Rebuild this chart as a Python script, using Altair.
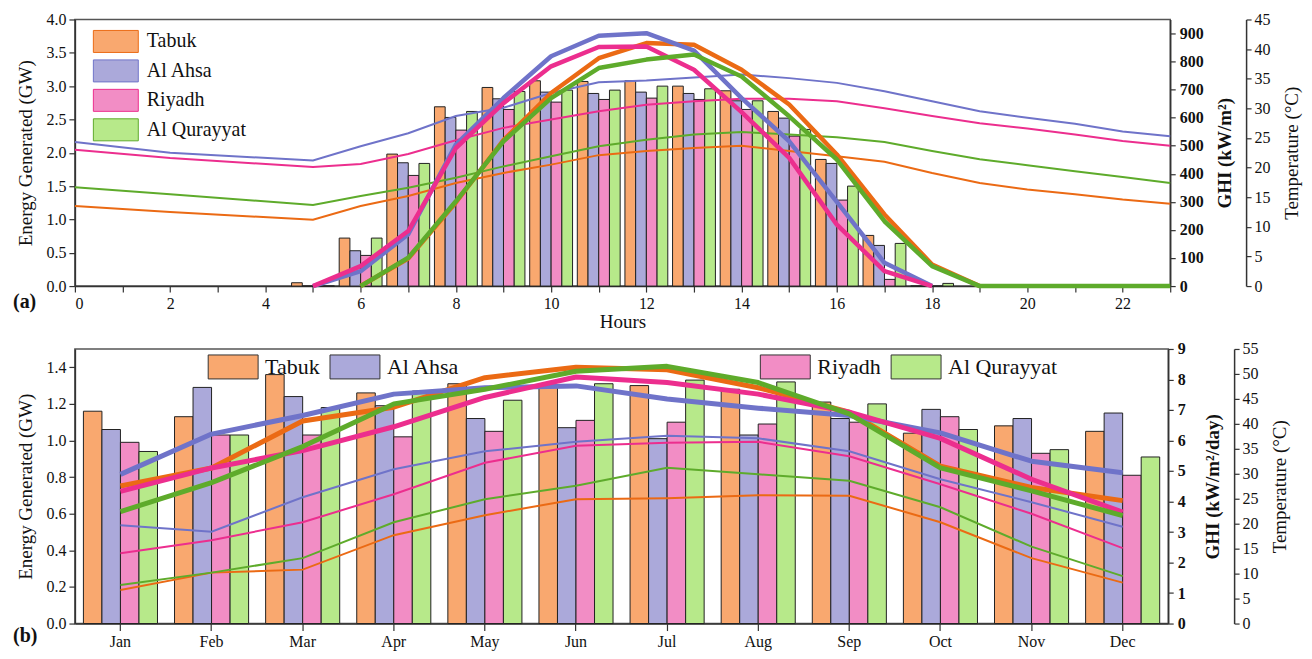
import altair as alt
import pandas as pd

FONT = "Liberation Serif"

cities = ["Tabuk", "Al Ahsa", "Riyadh", "Al Qurayyat"]
bar_colors = ["#F9A86F", "#ABA9DA", "#F28DC5", "#B7E98A"]
line_colors = ["#EB6A14", "#6F73C9", "#EC2E8E", "#5EAB2B"]

# ---------------- (a) hourly ----------------
bar_hours = [5, 6, 7, 8, 9, 10, 11, 12, 13, 14, 15, 16, 17, 18]
energy_tabuk_h = [0.05, 0.72, 1.98, 2.69, 2.98, 3.08, 3.07, 3.08, 3.00, 2.93, 2.62, 1.90, 0.76, 0.0]
energy_ahsa_h = [0.0, 0.53, 1.85, 2.53, 2.81, 2.91, 2.89, 2.91, 2.89, 2.78, 2.52, 1.84, 0.61, 0.0]
energy_riyadh_h = [0.0, 0.46, 1.66, 2.34, 2.65, 2.76, 2.80, 2.82, 2.80, 2.65, 2.25, 1.29, 0.10, 0.0]
energy_qur_h = [0.0, 0.72, 1.84, 2.62, 2.92, 2.94, 2.94, 3.00, 2.96, 2.78, 2.35, 1.50, 0.64, 0.04]

temp_hours = [0, 2, 5, 6, 7, 8, 9, 10, 11, 12, 13, 14, 15, 16, 17, 18, 19, 20, 21, 22, 23]
temp_tabuk_h = [13.5, 12.5, 11.2, 13.5, 15.2, 17.4, 19.1, 20.5, 22.1, 22.8, 23.3, 23.7, 22.8, 21.9, 21.0, 19.1, 17.4, 16.3, 15.5, 14.6, 13.9]
temp_ahsa_h = [24.3, 22.5, 21.2, 23.6, 25.8, 28.7, 30.1, 32.6, 34.4, 34.7, 35.2, 35.7, 35.1, 34.3, 32.9, 31.2, 29.5, 28.4, 27.4, 26.1, 25.3]
temp_riyadh_h = [23.0, 21.6, 20.1, 20.6, 22.3, 24.6, 26.7, 28.1, 29.5, 30.6, 31.2, 31.6, 31.6, 31.2, 30.0, 28.7, 27.5, 26.6, 25.6, 24.5, 23.7]
temp_qur_h = [16.7, 15.5, 13.7, 15.2, 16.6, 18.3, 20.2, 21.9, 23.6, 24.7, 25.6, 26.0, 25.6, 25.1, 24.3, 22.8, 21.4, 20.4, 19.4, 18.4, 17.4]

ghi_hours_tabuk = [6, 7, 8, 9, 10, 11, 12, 13, 14, 15, 16, 17, 18, 19]
ghi_tabuk_h = [0, 98, 298, 520, 688, 812, 866, 860, 771, 647, 469, 255, 77, 0]
ghi_hours_ahsa = [5, 6, 7, 8, 9, 10, 11, 12, 13, 14, 15, 16, 17, 18]
ghi_ahsa_h = [0, 53, 185, 504, 670, 819, 892, 901, 839, 670, 516, 300, 83, 0]
ghi_hours_riyadh = [5, 6, 7, 8, 9, 10, 11, 12, 13, 14, 15, 16, 17, 18]
ghi_riyadh_h = [0, 71, 196, 492, 652, 783, 852, 854, 771, 620, 457, 219, 53, 0]
ghi_hours_qur = [6, 7, 8, 9, 10, 11, 12, 13, 14, 15, 16, 17, 18, 19, 20, 21, 22, 23]
ghi_qur_h = [0, 101, 302, 516, 670, 777, 807, 825, 747, 605, 451, 231, 71, 0, 0, 0, 0, 0]

# ---------------- (b) monthly ----------------
months = ["Jan", "Feb", "Mar", "Apr", "May", "Jun", "Jul", "Aug", "Sep", "Oct", "Nov", "Dec"]
energy_tabuk_m = [1.16, 1.13, 1.36, 1.26, 1.31, 1.30, 1.30, 1.28, 1.21, 1.04, 1.08, 1.05]
energy_ahsa_m = [1.06, 1.29, 1.24, 1.19, 1.12, 1.07, 1.01, 1.03, 1.12, 1.17, 1.12, 1.15]
energy_riyadh_m = [0.99, 1.03, 1.03, 1.02, 1.05, 1.11, 1.10, 1.09, 1.10, 1.13, 0.93, 0.81]
energy_qur_m = [0.94, 1.03, 1.18, 1.27, 1.22, 1.31, 1.33, 1.32, 1.20, 1.06, 0.95, 0.91]

ghi_tabuk_m = [4.51, 5.10, 6.64, 7.09, 8.06, 8.40, 8.32, 7.73, 6.93, 5.16, 4.46, 4.03]
ghi_ahsa_m = [4.89, 6.21, 6.82, 7.52, 7.73, 7.79, 7.36, 7.06, 6.82, 6.25, 5.32, 4.94]
ghi_riyadh_m = [4.33, 5.10, 5.67, 6.45, 7.41, 8.08, 7.90, 7.52, 6.93, 6.07, 4.73, 3.65]
ghi_qur_m = [3.67, 4.62, 5.80, 7.20, 7.68, 8.27, 8.43, 7.90, 6.87, 5.10, 4.35, 3.54]

temp_tabuk_m = [6.7, 10.2, 10.8, 17.7, 21.7, 24.9, 25.1, 25.7, 25.6, 20.3, 13.1, 8.2]
temp_ahsa_m = [19.7, 18.4, 25.3, 30.9, 34.5, 36.4, 37.6, 37.1, 34.5, 28.9, 24.3, 19.4]
temp_riyadh_m = [14.1, 16.7, 20.3, 25.9, 32.2, 35.6, 36.2, 36.4, 33.5, 27.9, 22.0, 15.1]
temp_qur_m = [7.7, 10.2, 13.1, 20.3, 24.9, 27.6, 31.2, 29.9, 28.6, 23.3, 15.4, 9.5]

# ---------------- tables ----------------
def long_table(xname, xs_by_city, vals_by_city, vname):
    rows = []
    for i, c in enumerate(cities):
        for x, v in zip(xs_by_city[i], vals_by_city[i]):
            rows.append({xname: x, "city": c, "idx": i, vname: v})
    return pd.DataFrame(rows)

bars_a_df = long_table("hour", [bar_hours] * 4,
                       [energy_tabuk_h, energy_ahsa_h, energy_riyadh_h, energy_qur_h], "energy")
temp_a_df = long_table("hour", [temp_hours] * 4,
                       [temp_tabuk_h, temp_ahsa_h, temp_riyadh_h, temp_qur_h], "temp")
ghi_a_df = long_table("hour", [ghi_hours_tabuk, ghi_hours_ahsa, ghi_hours_riyadh, ghi_hours_qur],
                      [ghi_tabuk_h, ghi_ahsa_h, ghi_riyadh_h, ghi_qur_h], "ghi")

bars_b_df = long_table("month", [months] * 4,
                       [energy_tabuk_m, energy_ahsa_m, energy_riyadh_m, energy_qur_m], "energy")
temp_b_df = long_table("month", [months] * 4,
                       [temp_tabuk_m, temp_ahsa_m, temp_riyadh_m, temp_qur_m], "temp")
ghi_b_df = long_table("month", [months] * 4,
                      [ghi_tabuk_m, ghi_ahsa_m, ghi_riyadh_m, ghi_qur_m], "ghi")

W_A, H_A = 1097, 267
W_B, H_B = 1095, 275

stroke_scale = alt.Scale(domain=cities, range=line_colors)

# ---------------- panel (a) ----------------
x_scale_a = alt.Scale(domain=[0, 23], nice=False, zero=False)
x_axis_a = alt.Axis(values=list(range(0, 24)),
                    labelExpr="datum.value % 2 === 0 ? datum.label : ''",
                    title="Hours", tickSize=6, labelPadding=3, titlePadding=1,
                    labelFontSize=16, titleFontSize=19)

legend_a = alt.Legend(orient="none", legendX=18, legendY=10, direction="vertical",
                      title=None, symbolType="M-2,-0.98H2V0.98H-2Z", symbolSize=506,
                      symbolOffset=11, labelOffset=19, labelFont=FONT, labelFontSize=20,
                      labelColor="#111", symbolStrokeColor="#333", symbolStrokeWidth=1,
                      rowPadding=1.5, padding=0, columns=1)

bars_a = alt.Chart(bars_a_df).transform_calculate(
    x0="datum.hour - 0.45 + datum.idx * 0.225",
    x1="datum.hour - 0.225 + datum.idx * 0.225",
).mark_bar(stroke="#222", strokeWidth=1).encode(
    x=alt.X("x0:Q", scale=x_scale_a, axis=x_axis_a),
    x2="x1:Q",
    y=alt.Y("energy:Q", scale=alt.Scale(domain=[0, 4], nice=False),
            axis=alt.Axis(orient="left", title="Energy Generated (GW)",
                          values=[0, 0.5, 1, 1.5, 2, 2.5, 3, 3.5, 4], format=".1f",
                          tickSize=6, labelPadding=3, titlePadding=10)),
    y2=alt.datum(0),
    fill=alt.Fill("city:N", scale=alt.Scale(domain=cities, range=bar_colors), legend=legend_a),
)

temp_a = alt.Chart(temp_a_df).mark_line(strokeWidth=2).encode(
    x=alt.X("hour:Q", scale=x_scale_a, axis=x_axis_a),
    y=alt.Y("temp:Q", scale=alt.Scale(domain=[0, 45], nice=False),
            axis=alt.Axis(orient="right", offset=76, title="Temperature (°C)",
                          values=list(range(0, 50, 5)), tickSize=5, labelPadding=3,
                          titlePadding=12, titleAngle=270, titleBaseline="top")),
    stroke=alt.Stroke("city:N", scale=stroke_scale, legend=None),
)

ghi_a = alt.Chart(ghi_a_df).mark_line(strokeWidth=4.5, strokeJoin="round").encode(
    x=alt.X("hour:Q", scale=x_scale_a, axis=x_axis_a),
    y=alt.Y("ghi:Q", scale=alt.Scale(domain=[0, 950], nice=False),
            axis=alt.Axis(orient="right", offset=0, title="GHI (kW/m²)",
                          values=list(range(0, 1000, 100)), tickSize=5, labelPadding=4,
                          titlePadding=12, titleAngle=270, titleBaseline="top",
                          labelFontWeight="bold", titleFontWeight="bold")),
    stroke=alt.Stroke("city:N", scale=stroke_scale, legend=None),
)

label_a = alt.Chart(pd.DataFrame({"t": ["(a)"]})).mark_text(
    font=FONT, fontSize=20, fontWeight="bold", align="left", baseline="middle", color="#111"
).encode(x=alt.value(-62), y=alt.value(H_A + 16), text="t:N")

panel_a = alt.layer(bars_a, temp_a, ghi_a, label_a).resolve_scale(y="independent").properties(
    width=W_A, height=H_A)

# ---------------- panel (b) ----------------
x_b = alt.X("month:O", scale=alt.Scale(domain=months, paddingInner=0, paddingOuter=0),
            axis=alt.Axis(title=None, labelAngle=0, tickSize=7, labelPadding=3, labelFontSize=16))
off_b = alt.XOffset("city:N", scale=alt.Scale(domain=cities, paddingInner=0, paddingOuter=0.46))
y_axis_b = alt.Axis(orient="left", title="Energy Generated (GW)",
                    values=[0, 0.2, 0.4, 0.6, 0.8, 1.0, 1.2, 1.4], format=".1f",
                    tickSize=6, labelPadding=3, titlePadding=10)
y_b = alt.Y("energy:Q", scale=alt.Scale(domain=[0, 1.5], nice=False), axis=y_axis_b)

def legend_b(x):
    return alt.Legend(orient="none", legendX=x, legendY=5, direction="horizontal", columns=2,
                      title=None, symbolType="M-2,-0.96H2V0.96H-2Z", symbolSize=625,
                      symbolOffset=12.5, labelOffset=19, labelFont=FONT, labelFontSize=22,
                      labelColor="#111", symbolStrokeColor="#333", symbolStrokeWidth=1,
                      columnPadding=7, padding=0)

bars_b1 = alt.Chart(bars_b_df).transform_filter(
    alt.FieldOneOfPredicate(field="city", oneOf=cities[:2])
).mark_bar(stroke="#222", strokeWidth=1).encode(
    x=x_b, xOffset=off_b, y=y_b,
    fill=alt.Fill("city:N", scale=alt.Scale(domain=cities[:2], range=bar_colors[:2]),
                  legend=legend_b(133)),
)
bars_b2 = alt.Chart(bars_b_df).transform_filter(
    alt.FieldOneOfPredicate(field="city", oneOf=cities[2:])
).mark_bar(stroke="#222", strokeWidth=1).encode(
    x=x_b, xOffset=off_b, y=y_b,
    color=alt.Color("city:N", scale=alt.Scale(domain=cities[2:], range=bar_colors[2:]),
                    legend=legend_b(686)),
)
bars_b = alt.layer(bars_b1, bars_b2)

temp_b = alt.Chart(temp_b_df).mark_line(strokeWidth=2).encode(
    x=x_b,
    y=alt.Y("temp:Q", scale=alt.Scale(domain=[0, 55], nice=False),
            axis=alt.Axis(orient="right", offset=66, title="Temperature (°C)",
                          values=list(range(0, 60, 5)), tickSize=5, labelPadding=3,
                          titlePadding=12, titleAngle=270, titleBaseline="top")),
    stroke=alt.Stroke("city:N", scale=stroke_scale, legend=None),
)

ghi_b = alt.Chart(ghi_b_df).mark_line(strokeWidth=5, strokeJoin="round").encode(
    x=x_b,
    y=alt.Y("ghi:Q", scale=alt.Scale(domain=[0, 9], nice=False),
            axis=alt.Axis(orient="right", offset=0, title="GHI (kW/m²/day)",
                          values=list(range(0, 10)), tickSize=5, labelPadding=4,
                          titlePadding=18, titleAngle=270, titleBaseline="top",
                          labelFontWeight="bold", titleFontWeight="bold")),
    stroke=alt.Stroke("city:N", scale=stroke_scale, legend=None),
)

label_b = alt.Chart(pd.DataFrame({"t": ["(b)"]})).mark_text(
    font=FONT, fontSize=20, fontWeight="bold", align="left", baseline="middle", color="#111"
).encode(x=alt.value(-62), y=alt.value(H_B + 12), text="t:N")

panel_b = alt.layer(bars_b, temp_b, ghi_b, label_b).resolve_scale(y="independent").properties(
    width=W_B, height=H_B)

chart = alt.vconcat(panel_a, panel_b, spacing=63, bounds="flush").resolve_scale(
    fill="independent", color="independent", stroke="independent"
).properties(
    padding={"left": 4, "top": 2, "right": 2, "bottom": 0}
).configure_view(
    stroke="#555", strokeWidth=1.5
).configure_axis(
    labelFont=FONT, titleFont=FONT, labelColor="#111", titleColor="#111",
    domainColor="#333", tickColor="#333", domainWidth=1.5, tickWidth=1.2,
    titleFontWeight="normal", grid=False, labelFontSize=16, titleFontSize=19,
)

chart.save("out.html", embed_options={"renderer": "svg", "actions": False})
